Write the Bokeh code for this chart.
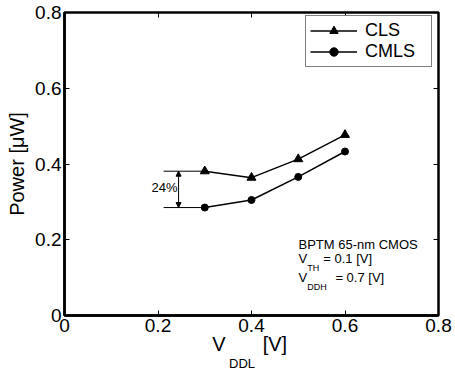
import math
from bokeh.plotting import figure
from bokeh.models import (Label, Legend, LegendItem, LinearAxis, Arrow, NormalHead,
                          Range1d, FixedTicker)
from bokeh.embed import file_html
from bokeh.resources import INLINE

# ---- data ----
vddl = [0.3, 0.4, 0.5, 0.6]
cls_power = [0.381, 0.364, 0.413, 0.477]
cmls_power = [0.285, 0.305, 0.366, 0.433]
tick_values = [0, 0.2, 0.4, 0.6, 0.8]
tick_labels = ["0", "0.2", "0.4", "0.6", "0.8"]

FONT = "Liberation Sans"

p = figure(width=455, height=373, output_backend="svg", toolbar_location=None,
           x_range=Range1d(0, 0.8), y_range=Range1d(0, 0.8),
           min_border_left=64, min_border_right=17, min_border_top=12, min_border_bottom=56)
p.grid.visible = False
p.background_fill_color = "white"
p.border_fill_color = "white"
p.outline_line_color = "black"
p.outline_line_width = 2.5

overrides = {v: s for v, s in zip(tick_values, tick_labels)}
for ax in (p.xaxis[0], p.yaxis[0]):
    ax.ticker = FixedTicker(ticks=tick_values)
    ax.major_label_overrides = overrides
    ax.minor_tick_line_color = None
    ax.major_tick_in = 5
    ax.major_tick_out = 0
    ax.axis_line_width = 2.5
    ax.major_label_text_font = FONT
    ax.major_label_text_font_size = "19px"
    ax.major_label_text_color = "black"
    ax.major_label_standoff = 3

p.yaxis.axis_label = "Power [\u03bcW]"
p.yaxis.axis_label_text_font = FONT
p.yaxis.axis_label_text_font_size = "20px"
p.yaxis.axis_label_text_font_style = "normal"
p.yaxis.axis_label_text_color = "black"
p.yaxis.axis_label_standoff = 4

# inward ticks on right and top
for loc in ("right", "above"):
    ax = LinearAxis(ticker=FixedTicker(ticks=tick_values))
    ax.major_label_text_font_size = "1px"
    ax.major_label_text_color = None
    ax.major_label_standoff = 0
    ax.minor_tick_line_color = None
    ax.major_tick_in = 5
    ax.major_tick_out = 0
    ax.axis_line_color = None
    p.add_layout(ax, loc)

# ---- x axis title "V_DDL [V]" built from two label rows below the axis ----
xtitle_main_pos = [0.3305, 0.450]
xtitle_main_txt = ["V", "[V]"]
xtitle_sub_pos = [0.3797]
xtitle_sub_txt = ["DDL"]
for pos, txt, size, standoff in ((xtitle_main_pos, xtitle_main_txt, "20px", -2),
                                 (xtitle_sub_pos, xtitle_sub_txt, "13px", -2)):
    ax = LinearAxis(ticker=FixedTicker(ticks=pos),
                    major_label_overrides={v: t for v, t in zip(pos, txt)})
    ax.major_label_text_font = FONT
    ax.major_label_text_font_size = size
    ax.major_label_text_color = "black"
    ax.major_label_standoff = standoff
    ax.major_tick_line_color = None
    ax.minor_tick_line_color = None
    ax.major_tick_in = 0
    ax.major_tick_out = 0
    ax.axis_line_color = None
    p.add_layout(ax, "below")

# ---- data series ----
l1 = p.line(vddl, cls_power, line_color="black", line_width=1.5)
m1 = p.scatter(vddl, cls_power, marker="triangle", size=9, fill_color="black", line_color="black")
l2 = p.line(vddl, cmls_power, line_color="black", line_width=1.5)
m2 = p.scatter(vddl, cmls_power, marker="circle", size=7, fill_color="black", line_color="black")

# ---- 24% annotation ----
p.line([0.212, vddl[0]], [cls_power[0], cls_power[0]], line_color="black", line_width=1)
p.line([0.212, vddl[0]], [cmls_power[0], cmls_power[0]], line_color="black", line_width=1)
p.add_layout(Arrow(x_start=0.244, y_start=cls_power[0], x_end=0.244, y_end=cmls_power[0],
                   start=NormalHead(size=5, fill_color="black", line_color="black"),
                   end=NormalHead(size=5, fill_color="black", line_color="black"),
                   line_width=1, line_color="black"))
p.add_layout(Label(x=0.2417, y=0.317, text="24%", text_align="right", text_font=FONT,
                   text_font_size="13px", text_color="black"))

# ---- condition text ----
def lab(x, y, t, size):
    p.add_layout(Label(x=x, y=y, text=t, text_font=FONT, text_font_size=size,
                       text_color="black"))

lab(0.5005, 0.168, "BPTM 65-nm CMOS", "13px")
lab(0.5005, 0.131, "V", "13px")
lab(0.519, 0.113, "TH", "9px")
lab(0.5535, 0.131, "= 0.1 [V]", "13px")
lab(0.5005, 0.081, "V", "13px")
lab(0.519, 0.063, "DDH", "9px")
lab(0.5795, 0.081, "= 0.7 [V]", "13px")

# ---- legend ----
legend = Legend(items=[LegendItem(label="CLS", renderers=[l1, m1]),
                       LegendItem(label="CMLS", renderers=[l2, m2])],
                location=(241, 248))
legend.margin = 0
legend.padding = 4
legend.spacing = 0
legend.glyph_width = 47
legend.glyph_height = 21
legend.label_height = 21
legend.label_width = 62
legend.label_standoff = 8
legend.label_text_font = FONT
legend.label_text_font_size = "18px"
legend.label_text_color = "black"
legend.border_line_color = "black"
legend.border_line_width = 1
legend.background_fill_alpha = 1
p.add_layout(legend)

open("out.html", "w").write(file_html(p, INLINE))
